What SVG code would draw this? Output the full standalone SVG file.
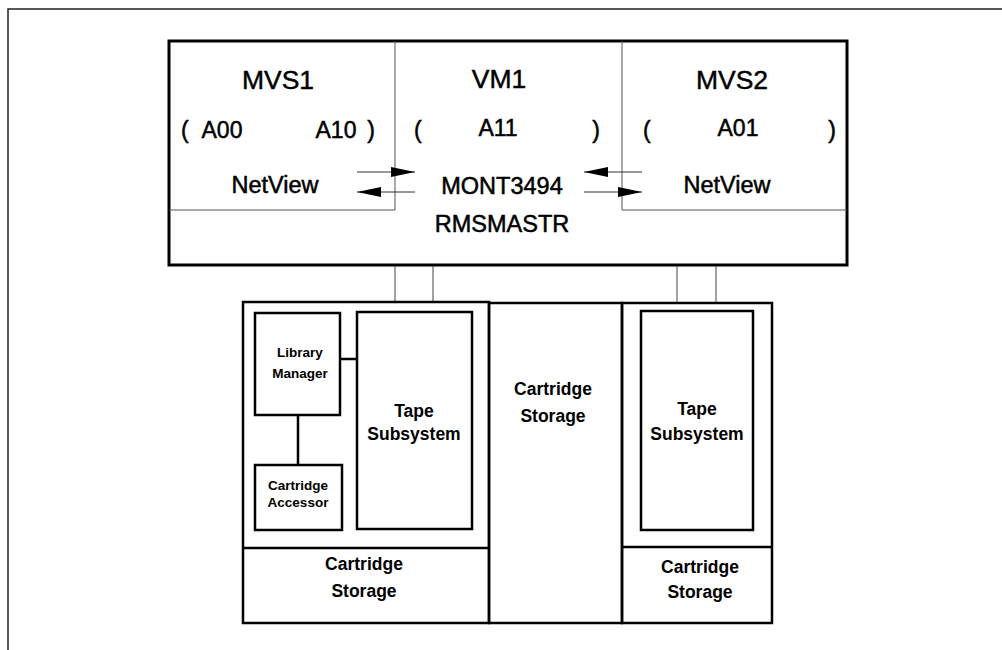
<svg xmlns="http://www.w3.org/2000/svg" width="1002" height="650" viewBox="0 0 1002 650">
<style>
.t{font-family:"Liberation Sans",Arial,sans-serif;fill:#000;text-anchor:middle}
.big{font-size:26.5px;stroke:#000;stroke-width:0.45}
.mid{font-size:23px;stroke:#000;stroke-width:0.5}
.nv{font-size:23.5px;stroke:#000;stroke-width:0.5}
.s14{font-size:13.5px;font-weight:bold}
.s17{font-size:17.5px;font-weight:bold}
.thin{fill:none;stroke:#555;stroke-width:1}
.thick{fill:none;stroke:#000;stroke-width:3}
.box{fill:none;stroke:#000;stroke-width:2.5}
.arr{stroke:#333;stroke-width:1;fill:none}
</style>
<defs>
<marker id="ah" viewBox="0 0 24 10" refX="24" refY="5" markerWidth="24" markerHeight="10" markerUnits="userSpaceOnUse" orient="auto">
<path d="M0,0 L24,5 L0,10 Z" fill="#000"/>
</marker>
</defs>
<rect width="1002" height="650" fill="#fff"/>
<g id="frame">
<path d="M8,650 V9 H1002" fill="none" stroke="#222" stroke-width="1.5"/>
</g>
<g id="host">
<rect x="169" y="41" width="678" height="224" class="thick"/>
<path d="M395,41 V210 H169" class="thin"/>
<path d="M622,41 V210 H847" class="thin"/>
</g>
<g id="mvs1">
<text class="t big" x="278" y="89">MVS1</text>
<text class="t mid" x="181" y="138" style="text-anchor:start">(</text>
<text class="t mid" x="222" y="138">A00</text>
<text class="t mid" x="336" y="138">A10</text>
<text class="t mid" x="375" y="138" style="text-anchor:end">)</text>
<text class="t nv" x="275" y="193">NetView</text>
</g>
<g id="vm1">
<text class="t big" x="499" y="88">VM1</text>
<text class="t mid" x="414" y="138" style="text-anchor:start">(</text>
<text class="t mid" x="498" y="136">A11</text>
<text class="t mid" x="600" y="138" style="text-anchor:end">)</text>
<text class="t nv" x="502" y="194">MONT3494</text>
<text class="t nv" x="502" y="232">RMSMASTR</text>
</g>
<g id="mvs2">
<text class="t big" x="732" y="89">MVS2</text>
<text class="t mid" x="643" y="138" style="text-anchor:start">(</text>
<text class="t mid" x="738" y="136">A01</text>
<text class="t mid" x="836" y="138" style="text-anchor:end">)</text>
<text class="t nv" x="727" y="193">NetView</text>
</g>
<g id="connectors">
<line x1="357" y1="172" x2="415" y2="172" class="arr" marker-end="url(#ah)"/>
<line x1="415" y1="192" x2="357" y2="192" class="arr" marker-end="url(#ah)"/>
<line x1="642" y1="172" x2="584" y2="172" class="arr" marker-end="url(#ah)"/>
<line x1="584" y1="192" x2="642" y2="192" class="arr" marker-end="url(#ah)"/>
<path d="M395,266 V302 M433,266 V302 M677,266 V302 M716,266 V302" stroke="#444" stroke-width="1" fill="none"/>
<path d="M340,359 H357 M298,415 V465" stroke="#000" stroke-width="2.5" fill="none"/>
</g>
<g id="library-left">
<rect x="243" y="302" width="246" height="321" class="box"/>
<line x1="243" y1="548" x2="489" y2="548" class="box"/>
</g>
<g id="library-manager">
<rect x="255" y="313" width="85" height="102" class="box"/>
<text class="t s14" x="300" y="357">Library</text>
<text class="t s14" x="300" y="378">Manager</text>
</g>
<g id="cartridge-accessor">
<rect x="255" y="465" width="87" height="65" class="box"/>
<text class="t s14" x="298" y="490">Cartridge</text>
<text class="t s14" x="298" y="507">Accessor</text>
</g>
<g id="tape-subsystem-1">
<rect x="357" y="312" width="115" height="217" class="box"/>
<text class="t s17" x="414" y="417">Tape</text>
<text class="t s17" x="414" y="440">Subsystem</text>
</g>
<g id="cartridge-storage-1">
<text class="t s17" x="364" y="570">Cartridge</text>
<text class="t s17" x="364" y="597">Storage</text>
</g>
<g id="cartridge-storage-mid">
<rect x="489" y="303" width="133" height="320" class="box"/>
<text class="t s17" x="553" y="395">Cartridge</text>
<text class="t s17" x="553" y="422">Storage</text>
</g>
<g id="library-right">
<rect x="622" y="303" width="150" height="320" class="box"/>
<line x1="622" y1="547" x2="772" y2="547" class="box"/>
</g>
<g id="tape-subsystem-2">
<rect x="641" y="311" width="112" height="219" class="box"/>
<text class="t s17" x="697" y="415">Tape</text>
<text class="t s17" x="697" y="440">Subsystem</text>
</g>
<g id="cartridge-storage-2">
<text class="t s17" x="700" y="573">Cartridge</text>
<text class="t s17" x="700" y="598">Storage</text>
</g>
</svg>
